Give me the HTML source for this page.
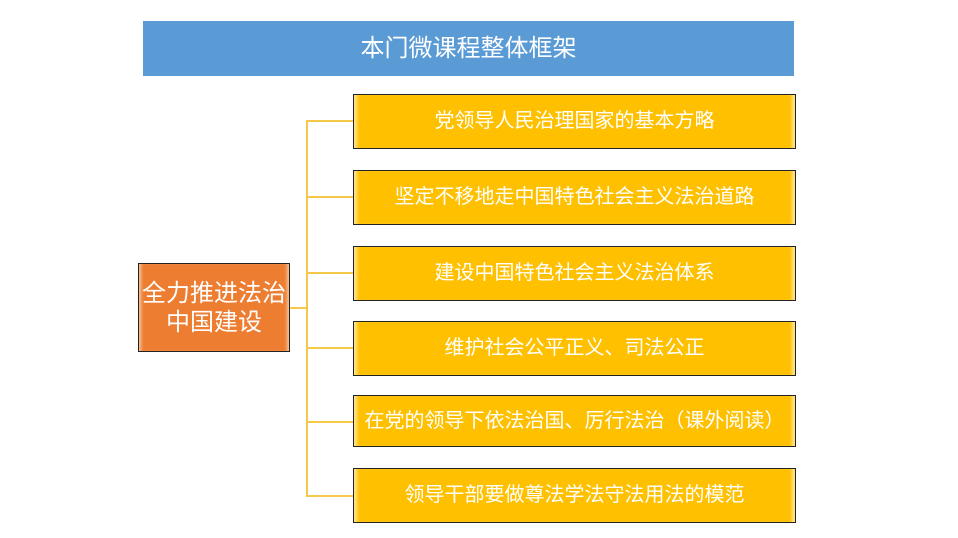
<!DOCTYPE html>
<html><head><meta charset="utf-8"><style>
body{margin:0;width:958px;height:538px;background:#fff;position:relative;overflow:hidden;font-family:"Liberation Sans","Noto Sans CJK SC",sans-serif}
.t{position:absolute;left:143px;top:21px;width:651px;height:55px;background:#5b9bd5;color:#fff;font-size:24px;line-height:55px;text-align:center}
.l{position:absolute;left:138px;top:263px;width:150px;height:87px;background:#ed7d31;border:1px solid #222;color:#fff;font-size:24px;line-height:29px;text-align:center;display:flex;align-items:center;justify-content:center;box-shadow:inset 4px 0 3px -2px #f8c79f,inset -4px 0 3px -2px #f8c79f}
.b{position:absolute;left:353px;width:441px;height:53px;background:#ffc000;border:1px solid #222;color:#fff;font-size:20px;line-height:53px;text-align:center;box-shadow:inset 5px 0 3px -2px #ffe58a,inset -5px 0 3px -2px #ffe58a;white-space:nowrap}
.v{position:absolute;background:#f5c84a}
</style></head><body>
<div class="t">本门微课程整体框架</div>
<div class="v" style="left:289px;top:307px;width:18px;height:2px"></div>
<div class="v" style="left:306px;top:120px;width:1.5px;height:376px"></div>
<div class="v" style="left:306px;top:120px;width:47px;height:1.5px"></div>
<div class="v" style="left:306px;top:196px;width:47px;height:1.5px"></div>
<div class="v" style="left:306px;top:272px;width:47px;height:1.5px"></div>
<div class="v" style="left:306px;top:347px;width:47px;height:1.5px"></div>
<div class="v" style="left:306px;top:421px;width:47px;height:1.5px"></div>
<div class="v" style="left:306px;top:495px;width:47px;height:1.5px"></div>
<div class="l"><div>全力推进法治<br>中国建设</div></div>
<div class="b" style="top:94px">党领导人民治理国家的基本方略</div>
<div class="b" style="top:170px">坚定不移地走中国特色社会主义法治道路</div>
<div class="b" style="top:246px">建设中国特色社会主义法治体系</div>
<div class="b" style="top:321px">维护社会公平正义、司法公正</div>
<div class="b" style="top:395px;height:50px;line-height:50px">在党的领导下依法治国、厉行法治（课外阅读）</div>
<div class="b" style="top:468px">领导干部要做尊法学法守法用法的模范</div>
</body></html>
